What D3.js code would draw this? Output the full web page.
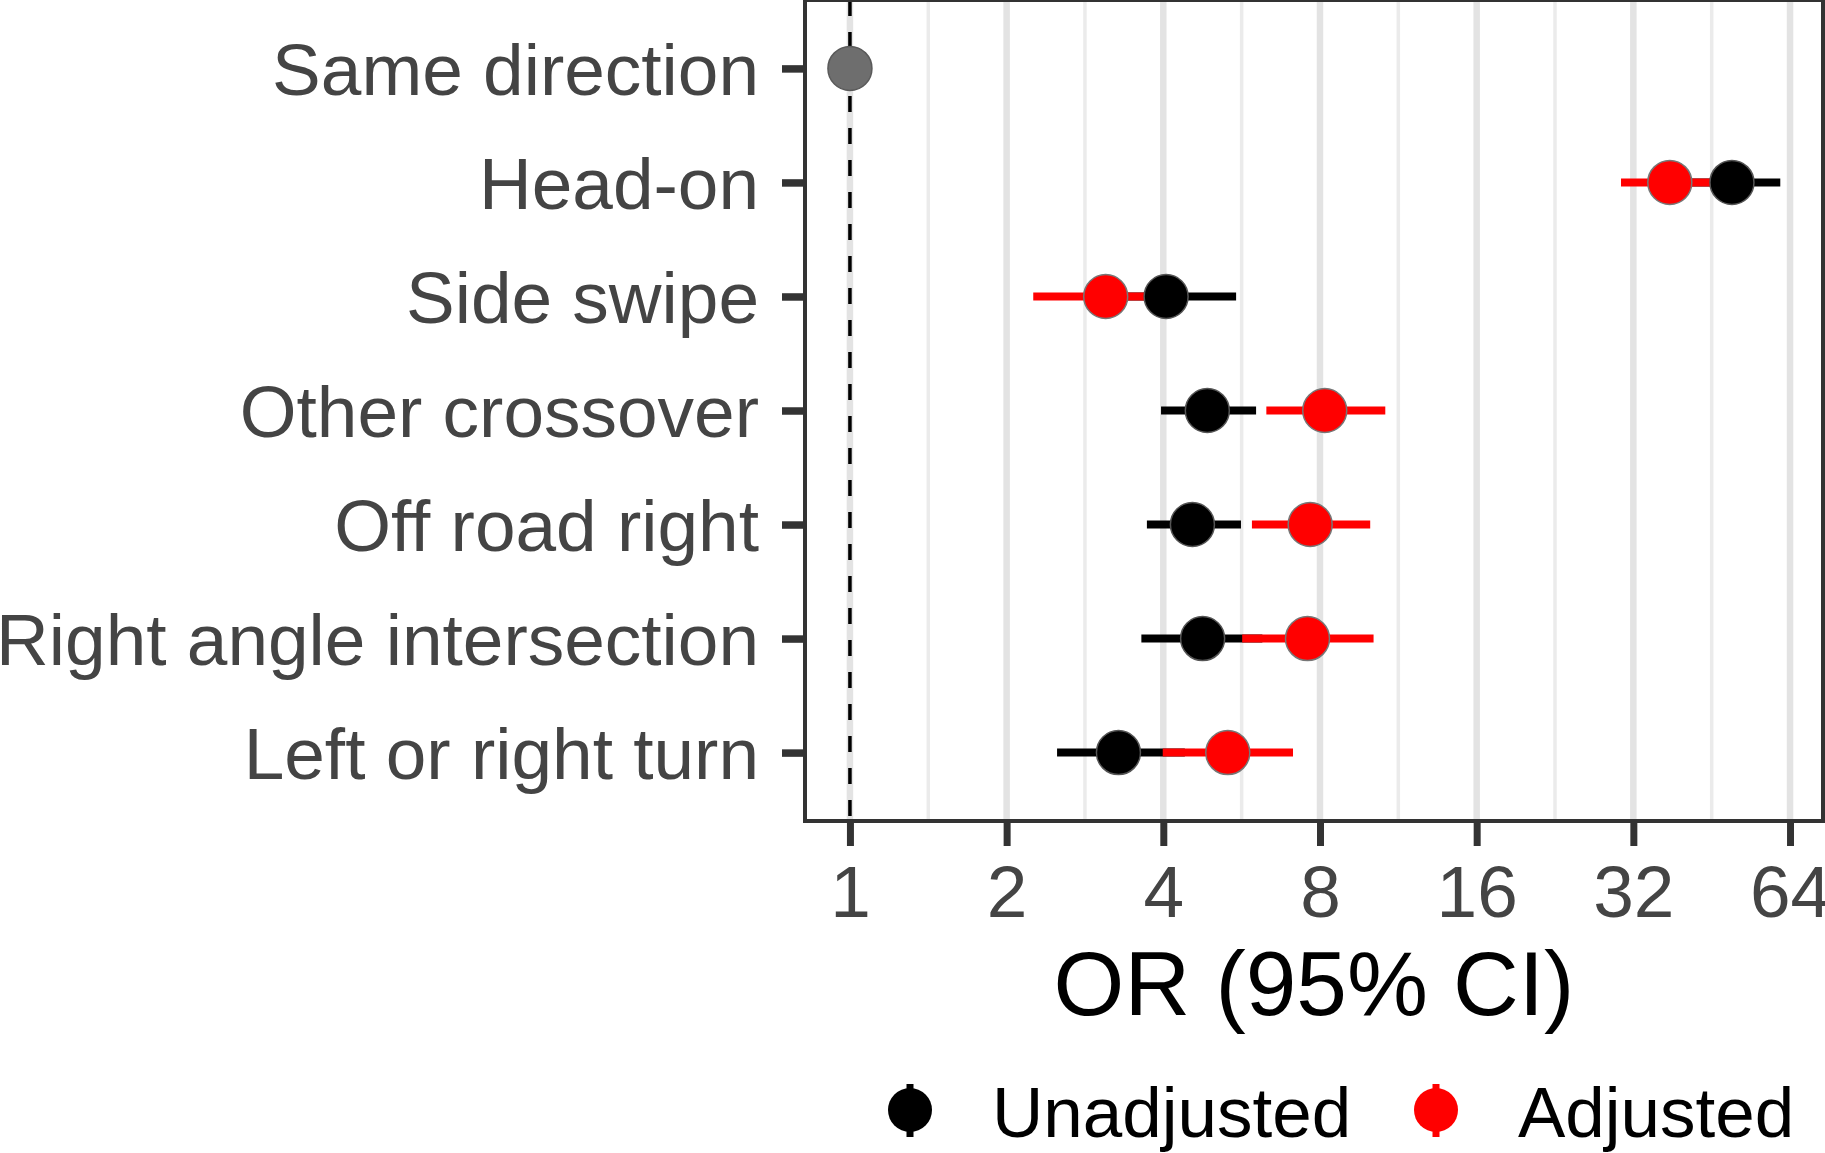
<!DOCTYPE html>
<html>
<head>
<meta charset="utf-8">
<script src="https://cdn.jsdelivr.net/npm/d3@7"></script>
<style>
  body { margin: 0; background: #fff; }
  text { font-family: "Liberation Sans", Arial, sans-serif; }
</style>
</head>
<body>
<div id="chart"></div>
<script>
var W = 1825, H = 1153;
var panel = {left: 805, right: 1823, top: 0, bottom: 821};

// crash types, top to bottom
var categories = ["Same direction", "Head-on", "Side swipe", "Other crossover",
                  "Off road right", "Right angle intersection", "Left or right turn"];
var refOR = [1, null, null, null, null, null, null];
// unadjusted odds ratios + 95% CI
var unadjOR = [null, 49.5, 4.05, 4.86, 4.55, 4.76, 3.28];
var unadjLo = [null, 38.0, 2.90, 3.96, 3.72, 3.63, 2.50];
var unadjHi = [null, 61.3, 5.52, 6.03, 5.64, 6.20, 4.40];
// adjusted odds ratios + 95% CI
var adjOR = [null, 37.6, 3.10, 8.17, 7.66, 7.57, 5.32];
var adjLo = [null, 30.3, 2.25, 6.31, 5.92, 5.67, 3.99];
var adjHi = [null, 46.0, 4.00, 10.68, 9.99, 10.14, 7.10];

var xTicks = [1, 2, 4, 8, 16, 32, 64];
var xMinor = [1.41421, 2.82843, 5.65685, 11.3137, 22.6274, 45.2548];
var seriesNames = ["Unadjusted", "Adjusted"];
var seriesColors = ["#000000", "#ff0000"];

var svg = d3.select("#chart").append("svg")
  .attr("width", W).attr("height", H);

var x = d3.scaleLog().base(2)
  .domain([0.8197, 74.05])
  .range([panel.left, panel.right]);

var y = d3.scalePoint()
  .domain(categories)
  .range([panel.top, panel.bottom])
  .padding(0.6);

// grid
svg.append("g").selectAll("line").data(xMinor).join("line")
  .attr("x1", function(d) { return x(d); }).attr("x2", function(d) { return x(d); })
  .attr("y1", panel.top).attr("y2", panel.bottom)
  .attr("stroke", "#ebebeb").attr("stroke-width", 3.5);

svg.append("g").selectAll("line").data(xTicks).join("line")
  .attr("x1", function(d) { return x(d); }).attr("x2", function(d) { return x(d); })
  .attr("y1", panel.top).attr("y2", panel.bottom)
  .attr("stroke", "#e3e3e3").attr("stroke-width", 6.5);

// reference line at OR = 1
svg.append("line")
  .attr("x1", x(1)).attr("x2", x(1))
  .attr("y1", panel.top).attr("y2", panel.bottom)
  .attr("stroke", "#000").attr("stroke-width", 3.5)
  .attr("stroke-dasharray", "16,16");

var rows = categories.map(function(c, i) {
  return {cat: c, ref: refOR[i],
          u: unadjOR[i], uLo: unadjLo[i], uHi: unadjHi[i],
          a: adjOR[i], aLo: adjLo[i], aHi: adjHi[i]};
});

// error bars: unadjusted first, adjusted on top
svg.append("g").selectAll("line").data(rows.filter(function(d) { return d.u != null; })).join("line")
  .attr("x1", function(d) { return x(d.uLo); }).attr("x2", function(d) { return x(d.uHi); })
  .attr("y1", function(d) { return y(d.cat); }).attr("y2", function(d) { return y(d.cat); })
  .attr("stroke", seriesColors[0]).attr("stroke-width", 8);

svg.append("g").selectAll("line").data(rows.filter(function(d) { return d.a != null; })).join("line")
  .attr("x1", function(d) { return x(d.aLo); }).attr("x2", function(d) { return x(d.aHi); })
  .attr("y1", function(d) { return y(d.cat); }).attr("y2", function(d) { return y(d.cat); })
  .attr("stroke", seriesColors[1]).attr("stroke-width", 8);

// points
svg.append("g").selectAll("circle").data(rows.filter(function(d) { return d.ref != null; })).join("circle")
  .attr("cx", function(d) { return x(d.ref); }).attr("cy", function(d) { return y(d.cat); })
  .attr("r", 22).attr("fill", "#6e6e6e").attr("stroke", "#5a5a5a").attr("stroke-width", 1.5);

svg.append("g").selectAll("circle").data(rows.filter(function(d) { return d.u != null; })).join("circle")
  .attr("cx", function(d) { return x(d.u); }).attr("cy", function(d) { return y(d.cat); })
  .attr("r", 22).attr("fill", seriesColors[0]).attr("stroke", "#555").attr("stroke-width", 1.5);

svg.append("g").selectAll("circle").data(rows.filter(function(d) { return d.a != null; })).join("circle")
  .attr("cx", function(d) { return x(d.a); }).attr("cy", function(d) { return y(d.cat); })
  .attr("r", 22).attr("fill", seriesColors[1]).attr("stroke", "#777").attr("stroke-width", 1.5);

// panel border
svg.append("rect")
  .attr("x", panel.left).attr("y", panel.top)
  .attr("width", panel.right - panel.left).attr("height", panel.bottom - panel.top)
  .attr("fill", "none").attr("stroke", "#333").attr("stroke-width", 4);

// x axis
var xAxis = svg.append("g")
  .attr("transform", "translate(0," + (panel.bottom + 2) + ")")
  .call(d3.axisBottom(x).tickValues(xTicks).tickFormat(d3.format("d")).tickSize(23).tickPadding(0));
xAxis.select(".domain").remove();
xAxis.selectAll(".tick line").attr("stroke", "#333").attr("stroke-width", 7);
xAxis.selectAll(".tick text")
  .attr("fill", "#444").style("font-size", "73px")
  .attr("y", 94).attr("dy", null);

// y axis
var yAxis = svg.append("g")
  .attr("transform", "translate(" + (panel.left - 2) + ",0)")
  .call(d3.axisLeft(y).tickSize(21).tickPadding(23));
yAxis.select(".domain").remove();
yAxis.selectAll(".tick line").attr("stroke", "#333").attr("stroke-width", 7.5);
yAxis.selectAll(".tick text")
  .attr("fill", "#444").style("font-size", "73px")
  .attr("dy", "0.36em");

// axis title
svg.append("text")
  .attr("x", (panel.left + panel.right) / 2).attr("y", 1015)
  .attr("text-anchor", "middle")
  .style("font-size", "91px").attr("fill", "#000")
  .text("OR (95% CI)");

// legend
var legendX = [910, 1436];
var legend = svg.append("g").selectAll("g").data(seriesNames).join("g")
  .attr("transform", function(d, i) { return "translate(" + legendX[i] + ",1110)"; });
legend.append("line")
  .attr("x1", 0).attr("x2", 0).attr("y1", -26).attr("y2", 27)
  .attr("stroke", function(d, i) { return seriesColors[i]; }).attr("stroke-width", 7);
legend.append("circle")
  .attr("r", 22)
  .attr("fill", function(d, i) { return seriesColors[i]; });
legend.append("text")
  .attr("x", 82).attr("y", 27)
  .style("font-size", "71px").attr("fill", "#000")
  .text(function(d) { return d; });
</script>
</body>
</html>
